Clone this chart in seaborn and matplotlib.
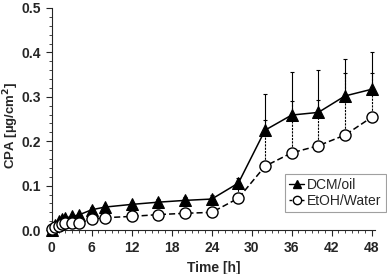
import numpy as np
import pandas as pd
import seaborn as sns
import matplotlib.pyplot as plt
from matplotlib.ticker import MultipleLocator

# sampling times (h)
time_h = [0, 0.5, 1, 1.5, 2, 3, 4, 6, 8, 12, 16, 20, 24, 28, 32, 36, 40, 44, 48]

# CPA permeation (ug/cm2)
dcm_oil = [0.0, 0.012, 0.02, 0.024, 0.027, 0.031, 0.034, 0.046, 0.052, 0.058,
           0.063, 0.067, 0.07, 0.106, 0.225, 0.259, 0.265, 0.302, 0.317]
dcm_err = [0.0, 0.002, 0.003, 0.003, 0.003, 0.004, 0.004, 0.005, 0.005, 0.006,
           0.006, 0.007, 0.008, 0.012, 0.081, 0.097, 0.095, 0.083, 0.083]

etoh_water = [0.002, 0.007, 0.01, 0.013, 0.015, 0.016, 0.017, 0.025, 0.028, 0.031,
              0.035, 0.038, 0.04, 0.072, 0.144, 0.174, 0.19, 0.214, 0.254]
etoh_err = [0.0, 0.001, 0.002, 0.002, 0.002, 0.002, 0.003, 0.003, 0.004, 0.004,
            0.004, 0.005, 0.006, 0.03, 0.104, 0.116, 0.103, 0.14, 0.1]

df = pd.DataFrame({'Time': time_h * 2,
                   'CPA': dcm_oil + etoh_water,
                   'Series': ['DCM/oil'] * len(time_h) + ['EtOH/Water'] * len(time_h)})

sns.set_style('ticks')
plt.rcParams['font.family'] = ['Liberation Sans', 'DejaVu Sans']

fig = plt.figure(figsize=(3.87, 2.74), dpi=100)
ax = fig.add_axes([0.134, 0.16, 0.835, 0.811])

# error bars (upper only), drawn first so markers sit on top
eb = ax.errorbar(time_h, etoh_water, yerr=[np.zeros(len(time_h)), etoh_err],
                 fmt='none', ecolor='black', elinewidth=0.8, capsize=1.5, capthick=0.8,
                 zorder=1, clip_on=False)
eb[2][0].set_linestyle((0, (2, 1)))
ax.errorbar(time_h, dcm_oil, yerr=[np.zeros(len(time_h)), dcm_err],
            fmt='none', ecolor='black', elinewidth=0.8, capsize=1.5, capthick=0.8,
            zorder=1, clip_on=False)

sns.lineplot(data=df, x='Time', y='CPA', hue='Series', style='Series',
             palette=['black', 'black'], markers=['^', 'o'], dashes=['', (4, 2)],
             linewidth=1.1, markersize=8, ax=ax, legend=False, zorder=3)

# open circles for EtOH/Water, filled triangles for DCM/oil
for ln in ax.get_lines():
    if ln.get_marker() == 'o':
        ln.set_markerfacecolor('white')
        ln.set_markeredgecolor('black')
        ln.set_markeredgewidth(1.0)
    elif ln.get_marker() == '^':
        ln.set_markerfacecolor('black')
        ln.set_markeredgecolor('black')
    ln.set_clip_on(False)

ax.set_xlim(0, 48.5)
ax.set_ylim(0, 0.5)
ax.set_xticks([0, 6, 12, 18, 24, 30, 36, 42, 48])
ax.set_yticks([0.0, 0.1, 0.2, 0.3, 0.4, 0.5])
ax.set_yticklabels(['0.0', '0.1', '0.2', '0.3', '0.4', '0.5'])
ax.xaxis.set_minor_locator(MultipleLocator(1))
ax.yaxis.set_minor_locator(MultipleLocator(0.02))
ax.tick_params(axis='both', which='major', length=4, width=0.8, labelsize=10, pad=4)
ax.tick_params(axis='both', which='minor', length=2, width=0.6)
for lab in ax.get_xticklabels() + ax.get_yticklabels():
    lab.set_fontweight('bold')

for side in ['top', 'right']:
    ax.spines[side].set_visible(False)
ax.spines['left'].set_linewidth(0.8)
ax.spines['bottom'].set_linewidth(0.8)

ax.set_xlabel('Time [h]', fontsize=10, fontweight='bold', labelpad=4)
ax.set_ylabel('CPA [µg/cm$^{\\mathbf{2}}$]', fontsize=9.5, fontweight='bold')
ax.yaxis.set_label_coords(-0.094, 0.47)

handles = [plt.Line2D([], [], color='black', marker='^', markersize=6, linewidth=1.0,
                      markerfacecolor='black'),
           plt.Line2D([], [], color='black', marker='o', markersize=6, linewidth=1.0,
                      linestyle=(0, (2, 1)), markerfacecolor='white')]
leg = fig.legend(handles, ['DCM/oil', 'EtOH/Water'], loc='lower right',
                 bbox_to_anchor=(0.997, 0.226), borderaxespad=0, fontsize=10,
                 handlelength=1.1, handletextpad=0.2, borderpad=0.3, labelspacing=0.15,
                 frameon=True, fancybox=False, edgecolor='#888888')
leg.get_frame().set_linewidth(0.8)

fig.savefig('out.png', dpi=100)
